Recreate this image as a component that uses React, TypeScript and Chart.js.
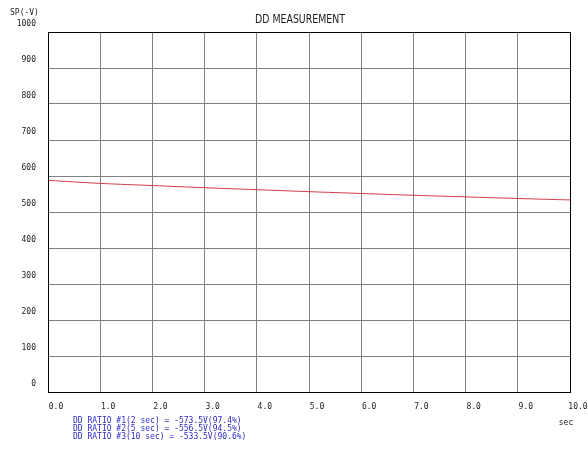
import React, { useEffect, useRef } from "react";
import { Chart, registerables } from "chart.js";

Chart.register(...registerables);

const timeSec = [0, 1, 2, 3, 4, 5, 6, 7, 8, 9, 10];
const surfacePotential = [588, 579.5, 573.5, 567.5, 562, 556.5, 551.5, 546.5, 542, 537.5, 533.5];
const xTicks = ["0.0", "1.0", "2.0", "3.0", "4.0", "5.0", "6.0", "7.0", "8.0", "9.0", "10.0"];
const yTicks = ["0", "100", "200", "300", "400", "500", "600", "700", "800", "900", "1000"];
const ratioLines = [
  "DD RATIO #1(2 sec) = -573.5V(97.4%)",
  "DD RATIO #2(5 sec) = -556.5V(94.5%)",
  "DD RATIO #3(10 sec) = -533.5V(90.6%)",
];
const titleText = "DD MEASUREMENT";
const yUnit = "SP(-V)";
const xUnit = "sec";

const MONO = "'DejaVu Sans Mono', 'Liberation Mono', monospace";

function drawFit(ctx: CanvasRenderingContext2D, text: string, cx: number, cy: number, width: number) {
  const w = ctx.measureText(text).width;
  const s = width / w;
  ctx.save();
  ctx.translate(cx, cy);
  ctx.scale(s, 1);
  ctx.textAlign = "center";
  ctx.textBaseline = "middle";
  ctx.fillText(text, 0, 0);
  ctx.restore();
}

const decorPlugin = {
  id: "decor",
  afterDraw(chart: any) {
    const ctx = chart.ctx as CanvasRenderingContext2D;
    const a = chart.chartArea;
    ctx.save();
    ctx.strokeStyle = "#000";
    ctx.lineWidth = 1;
    ctx.strokeRect(Math.round(a.left) + 0.5, Math.round(a.top) + 0.5, Math.round(a.right - a.left), Math.round(a.bottom - a.top));
    ctx.fillStyle = "#1a1a1a";
    ctx.font = "13px 'DejaVu Sans Condensed', 'DejaVu Sans', sans-serif";
    drawFit(ctx, titleText, 300, 20, 90);
    ctx.font = `8px ${MONO}`;
    ctx.fillStyle = "#222";
    ctx.textBaseline = "middle";
    ctx.textAlign = "left";
    ctx.fillText(yUnit, 10, 13);
    ctx.textAlign = "center";
    ctx.fillText(xUnit, 566, 423);
    ctx.fillStyle = "#2a2ac8";
    ctx.textAlign = "left";
    ratioLines.forEach((t, i) => ctx.fillText(t, 73, 421 + i * 8));
    ctx.restore();
  },
};

export default function App() {
  const ref = useRef<HTMLCanvasElement>(null);
  useEffect(() => {
    document.body.style.margin = "0";
    const gridColor = (c: any) => (c.index === 0 || c.index === 10 ? "#000" : "#808080");
    const chart = new Chart(ref.current!, {
      type: "line",
      data: {
        datasets: [
          {
            data: timeSec.map((t, i) => ({ x: t, y: surfacePotential[i] })),
            borderColor: "#d23c46",
            borderWidth: 1,
            pointRadius: 0,
            tension: 0.4,
            fill: false,
          },
        ],
      },
      plugins: [decorPlugin],
      options: {
        animation: false,
        responsive: false,
        maintainAspectRatio: false,
        layout: { padding: { top: 32, right: 18, left: 0, bottom: 0 } },
        plugins: { legend: { display: false }, tooltip: { enabled: false }, title: { display: false } },
        scales: {
          x: {
            type: "linear",
            min: 0,
            max: 10,
            afterFit: (s: any) => { s.height = 64; s.paddingLeft = 0; s.paddingRight = 0; },
            afterBuildTicks: (s: any) => { s.ticks = timeSec.map((v) => ({ value: v })); },
            grid: { color: gridColor, drawTicks: false, lineWidth: 1 },
            border: { display: true, color: "#000" },
            ticks: {
              stepSize: 1,
              padding: 10,
              labelOffset: 8,
              maxRotation: 0,
              autoSkip: false,
              color: "#222",
              font: { family: MONO, size: 8 },
              callback: (v: any, i: number) => xTicks[i],
            },
          },
          y: {
            min: 0,
            max: 1000,
            afterFit: (s: any) => { s.width = 48; s.paddingTop = 0; s.paddingBottom = 0; },
            grid: { color: gridColor, drawTicks: false, lineWidth: 1 },
            border: { display: true, color: "#000" },
            ticks: {
              stepSize: 100,
              padding: 12,
              labelOffset: -8,
              color: "#222",
              font: { family: MONO, size: 8 },
              callback: (v: any, i: number) => yTicks[i],
            },
          },
        },
      },
    });
    return () => chart.destroy();
  }, []);
  return (
    <div style={{ width: 588, height: 456, background: "#fff" }}>
      <canvas ref={ref} width={588} height={456} style={{ display: "block", width: 588, height: 456 }} />
    </div>
  );
}
